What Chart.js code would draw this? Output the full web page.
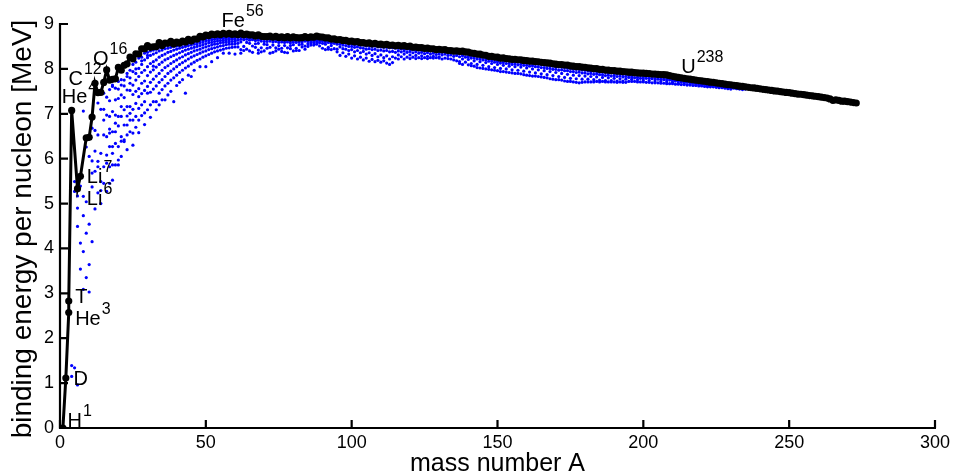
<!DOCTYPE html>
<html><head><meta charset="utf-8">
<script src="https://cdn.jsdelivr.net/npm/chart.js@4.4.1/dist/chart.umd.min.js"></script>
<style>html,body{margin:0;padding:0;background:#fff;}#wrap{width:957px;height:474px;}</style>
</head><body><div id="wrap"><canvas id="c" width="957" height="474"></canvas></div>
<script>
// Black curve: most bound nucleus for each mass number (A=3 has T and He3)
const curveA = [1,2,3,3,4,6,7,9,10,11,
 12,13,14,15,16,17,18,19,20,21,22,23,24,25,26,27,28,29,30,31,32,33,34,35,36,37,38,39,40,
 41,42,43,44,45,46,47,48,49,50,51,52,53,54,55,56,57,58,59,60,61,62,63,64,65,66,67,68,69,70,
 71,72,73,74,75,76,77,78,79,80,81,82,83,84,85,86,87,88,89,90,91,92,93,94,95,96,97,98,99,100,
 101,102,103,104,105,106,107,108,109,110,111,112,113,114,115,116,117,118,119,120,
 121,122,123,124,125,126,127,128,129,130,131,132,133,134,135,136,137,138,139,140,
 141,142,143,144,145,146,147,148,149,150,151,152,153,154,155,156,157,158,159,160,
 161,162,163,164,165,166,167,168,169,170,171,172,173,174,175,176,177,178,179,180,
 181,182,183,184,185,186,187,188,189,190,191,192,193,194,195,196,197,198,199,200,
 201,202,203,204,205,206,207,208,209,210,211,212,213,214,215,216,217,218,219,220,
 221,222,223,224,225,226,227,228,229,230,231,232,233,234,235,236,237,238,239,240,
 241,242,243,244,245,246,247,248,249,250,251,252,253,254,255,256,257,258,259,260,
 261,262,263,264,265,266,267,268,269,270,271,272,273];
const curveBE = [0,1.112,2.573,2.827,7.074,5.332,5.606,6.463,6.475,6.928,
 7.680,7.470,7.476,7.699,7.976,7.751,7.767,7.779,8.032,7.972,8.081,8.112,8.261,8.224,8.334,8.332,8.448,8.449,8.521,8.481,8.493,8.498,8.584,8.520,8.575,8.570,8.614,8.557,8.595,
 8.576,8.617,8.600,8.658,8.619,8.666,8.665,8.723,8.711,8.755,8.742,8.776,8.760,8.778,8.765,8.790,8.770,8.792,8.768,8.781,8.765,8.795,8.763,8.777,8.757,8.760,8.734,8.756,8.725,8.722,
 8.718,8.732,8.705,8.725,8.701,8.711,8.695,8.718,8.688,8.711,8.696,8.693,8.696,8.717,8.697,8.712,8.705,8.733,8.714,8.710,8.693,8.693,8.664,8.667,8.649,8.654,8.635,8.635,8.614,8.619,
 8.601,8.607,8.584,8.585,8.571,8.580,8.554,8.567,8.548,8.551,8.537,8.545,8.527,8.532,8.516,8.523,8.510,8.517,8.499,8.505,
 8.482,8.488,8.472,8.473,8.458,8.463,8.446,8.449,8.431,8.438,8.424,8.428,8.410,8.408,8.397,8.403,8.392,8.394,8.378,8.376,
 8.354,8.346,8.330,8.327,8.309,8.304,8.281,8.280,8.263,8.262,8.239,8.244,8.229,8.225,8.213,8.215,8.204,8.202,8.189,8.184,
 8.173,8.173,8.162,8.159,8.147,8.142,8.132,8.130,8.115,8.106,8.098,8.097,8.087,8.084,8.069,8.061,8.052,8.049,8.039,8.035,
 8.023,8.018,8.008,8.005,7.991,7.989,7.974,7.973,7.963,7.962,7.948,7.948,7.938,7.936,7.927,7.927,7.916,7.912,7.905,7.906,
 7.898,7.897,7.886,7.886,7.878,7.875,7.870,7.868,7.848,7.834,7.820,7.810,7.800,7.790,7.780,7.770,7.760,7.750,7.740,7.735,
 7.725,7.715,7.705,7.700,7.690,7.680,7.670,7.660,7.650,7.645,7.635,7.625,7.615,7.610,7.600,7.590,7.580,7.575,7.565,7.555,
 7.545,7.540,7.530,7.520,7.510,7.505,7.495,7.485,7.475,7.470,7.460,7.450,7.440,7.435,7.425,7.415,7.405,7.400,7.390,7.380,
 7.370,7.360,7.350,7.330,7.300,7.310,7.300,7.280,7.280,7.270,7.260,7.250,7.240];

// Blue points: all other nuclides, one row per mass number: [A, B/A values...]
const isotopeRows = [
[4,1.39,1.15],[5,1.34,5.49,5.27],[6,0.96,4.90,4.49,5.17],[7,5.39,4.12,3.54],
[8,7.06,5.16,4.73,3.93,3.09],[9,6.26,5.04,4.34,3.35],[10,6.50,6.05,4.54,3.64,3.03],
[11,6.68,5.95,5.68,5.37,4.15],[12,6.63,6.17,5.72,4.88],[13,7.24,6.53,5.94,5.82,5.24],
[14,7.52,7.10,6.12,5.49,5.29,5.00],[15,7.46,7.10,6.86,6.53,5.82,5.45],[16,7.37,6.97,6.49,6.08,5.90,5.27],
[17,7.54,7.29,6.94,6.66,6.57,6.27,5.82,5.45],[18,7.64,7.61,7.05,6.60,6.27,6.12,5.86,5.52],
[19,7.57,7.31,6.97,6.79,6.34,5.86,6.60],[20,7.72,7.34,6.94,6.73,6.27,5.97,5.86,7.55],
[21,7.76,7.64,7.42,7.16,6.94,6.49,6.39,6.05],[22,7.75,7.62,7.09,6.75,6.42,6.38,7.36],
[23,7.90,7.83,7.53,7.16,6.75,6.53,6.95,6.20],[24,7.97,7.80,7.52,7.16,7.01,6.86,6.60,7.68],
[25,8.10,7.94,7.64,7.43,7.10,6.86,6.57,6.30],[26,8.15,8.00,7.75,7.50,7.23,6.94,6.70,7.90],
[27,8.24,8.01,7.83,7.56,7.38,7.12,6.86,6.58],[28,8.26,8.10,7.92,7.68,7.45,7.20,6.96,8.18],
[29,8.35,8.20,7.97,7.73,7.52,7.27,7.02,6.76],[30,8.37,8.25,8.05,7.85,7.61,7.46,7.09,8.30],
[31,8.40,8.30,8.12,7.93,7.70,7.48,7.20,6.92],[32,8.42,8.33,8.16,7.98,7.77,7.55,7.27,8.06],
[33,8.44,8.36,8.20,8.04,7.84,7.62,7.27,7.09],[34,8.49,8.40,8.26,8.10,7.90,7.70,7.46,7.20],
[35,8.48,8.42,8.30,8.15,7.97,7.76,7.54,7.31],[36,8.52,8.45,8.33,8.20,8.03,7.83,7.62,7.31],
[37,8.53,8.46,8.37,8.23,8.07,7.90,7.68,7.42],[38,8.55,8.48,8.39,8.27,8.12,7.95,7.75,7.50],
[39,8.54,8.50,8.42,8.30,8.16,8.00,7.80,7.27],[40,8.55,8.51,8.44,8.33,8.20,8.05,7.86,7.63],
[41,8.56,8.52,8.46,8.36,8.24,8.10,7.92,7.70],[42,8.58,8.55,8.48,8.39,8.27,8.14,7.97,7.76],
[43,8.59,8.55,8.50,8.42,8.31,8.18,8.02,7.46],[44,8.61,8.57,8.52,8.44,8.34,8.22,8.06,7.86],
[45,8.61,8.58,8.53,8.46,8.37,8.26,8.11,7.83],[46,8.64,8.60,8.55,8.48,8.40,8.29,8.15,7.97],
[47,8.64,8.61,8.56,8.50,8.42,8.32,8.19],[48,8.67,8.63,8.58,8.52,8.44,8.35,8.22,8.05],
[49,8.69,8.65,8.60,8.54,8.47,8.38,8.26],[50,8.70,8.67,8.62,8.56,8.49,8.40,8.29,8.05],
[51,8.71,8.68,8.63,8.58,8.51,8.43,8.32],[52,8.72,8.70,8.65,8.59,8.53,8.45,8.35,8.16],
[53,8.74,8.71,8.66,8.61,8.55,8.47,8.38],[54,8.74,8.72,8.67,8.62,8.56,8.49,8.40,8.25],
[55,8.75,8.72,8.68,8.63,8.58,8.51,8.42],[56,8.74,8.71,8.68,8.64,8.59,8.52,8.44,8.35],
[57,8.76,8.73,8.69,8.65,8.60,8.54,8.46],[58,8.73,8.72,8.69,8.65,8.60,8.55,8.47,8.35],
[59,8.75,8.72,8.69,8.66,8.61,8.55,8.48],[60,8.76,8.72,8.69,8.65,8.61,8.56,8.49,8.33],
[61,8.74,8.70,8.64,8.57,8.49],[62,8.76,8.71,8.66,8.60,8.43,8.35],
[63,8.74,8.70,8.65,8.50,8.41],[64,8.75,8.71,8.66,8.59,8.44],
[65,8.73,8.69,8.64,8.57,8.40],[66,8.74,8.70,8.65,8.51,8.37],
[67,8.71,8.68,8.63,8.56,8.48],[68,8.73,8.69,8.64,8.57,8.42,8.35],
[69,8.70,8.67,8.62,8.47,8.38],[70,8.70,8.66,8.61,8.55,8.40],
[71,8.69,8.66,8.61,8.54,8.46],[72,8.71,8.67,8.62,8.48,8.35],
[73,8.68,8.65,8.60,8.53,8.37],[74,8.70,8.66,8.61,8.47,8.40],
[75,8.68,8.64,8.59,8.52,8.44],[76,8.69,8.65,8.60,8.46,8.39],
[77,8.67,8.64,8.59,8.52,8.37],[78,8.69,8.65,8.60,8.47,8.36],
[79,8.66,8.63,8.58,8.52,8.45],[80,8.69,8.65,8.60,8.54,8.40],
[81,8.67,8.64,8.59,8.46,8.41],[82,8.67,8.64,8.60,8.54,8.41],
[83,8.67,8.64,8.60,8.55,8.49],[84,8.69,8.66,8.62,8.51,8.44],
[85,8.67,8.64,8.61,8.56,8.50],[86,8.69,8.66,8.62,8.58,8.53],
[87,8.68,8.65,8.62,8.58,8.53],[88,8.71,8.68,8.64,8.60,8.55],
[89,8.69,8.66,8.62,8.58,8.51],[90,8.69,8.66,8.62,8.57,8.46],
[91,8.67,8.64,8.60,8.55,8.43],[92,8.67,8.64,8.59,8.48,8.44],
[93,8.64,8.61,8.57,8.52,8.43],[94,8.64,8.61,8.57,8.45],
[95,8.63,8.60,8.55,8.44,8.38],[96,8.63,8.60,8.55,8.49,8.30],
[97,8.61,8.58,8.53,8.45,8.36],[98,8.61,8.58,8.52,8.44,8.28],
[99,8.59,8.56,8.50,8.41,8.33],[100,8.60,8.56,8.50,8.43,8.24],
[101,8.58,8.54,8.48,8.38,8.29],[102,8.58,8.55,8.49,8.41,8.22],
[103,8.56,8.53,8.47,8.36,8.26],[104,8.56,8.53,8.46,8.39,8.20],
[105,8.55,8.51,8.44,8.33,8.24],[106,8.55,8.52,8.45,8.36,8.17],
[107,8.53,8.50,8.43,8.30,8.21],[108,8.54,8.51,8.44,8.34,8.16],
[109,8.52,8.49,8.41,8.27,8.19],[110,8.53,8.49,8.42,8.31,8.15],
[111,8.51,8.48,8.40,8.25,8.18],[112,8.52,8.48,8.41,8.29,8.13],
[113,8.50,8.47,8.38,8.22,8.10],[114,8.51,8.47,8.39,8.27,8.14],
[115,8.49,8.46,8.37,8.24],[116,8.50,8.46,8.40,8.31,8.22],
[117,8.49,8.45,8.38,8.27],[118,8.49,8.45,8.40,8.33,8.22],
[119,8.48,8.44,8.37,8.26],[120,8.48,8.44,8.39,8.31,8.23],
[121,8.46,8.43,8.36,8.26],[122,8.47,8.43,8.38,8.30,8.23],
[123,8.45,8.42,8.35,8.25],[124,8.45,8.42,8.37,8.29,8.23],
[125,8.44,8.41,8.34,8.25],[126,8.44,8.41,8.36,8.28,8.23],
[127,8.43,8.40,8.33,8.25],[128,8.43,8.40,8.35,8.28,8.24],
[129,8.41,8.38,8.32,8.25],[130,8.42,8.39,8.34,8.27,8.24],
[131,8.40,8.37,8.31,8.22],[132,8.41,8.38,8.33,8.24],
[133,8.39,8.36,8.30,8.23],[134,8.39,8.36,8.31,8.22],
[135,8.38,8.35,8.28,8.20],[136,8.38,8.35,8.30,8.18],
[137,8.37,8.34,8.27,8.16,8.12],[138,8.37,8.34,8.29,8.22,8.10],
[139,8.36,8.33,8.26,8.15],[140,8.35,8.32,8.27,8.21,8.09],
[141,8.33,8.30,8.24,8.12,8.07],[142,8.33,8.29,8.24,8.18,8.06],
[143,8.31,8.28,8.22,8.10,8.03],[144,8.31,8.27,8.22,8.16,8.02],
[145,8.29,8.26,8.20,8.08,8.01],[146,8.28,8.25,8.20,8.14,8.00],
[147,8.26,8.23,8.17,8.05,7.99],[148,8.26,8.23,8.18,8.12,7.98],
[149,8.24,8.21,8.15,8.03,7.97],[150,8.24,8.21,8.16,8.10,7.96],
[151,8.22,8.19,8.13,8.01,7.94],[152,8.22,8.19,8.14,8.08,7.94],
[153,8.21,8.18,8.12,8.00,7.93],[154,8.20,8.17,8.12,8.06,7.92],
[155,8.19,8.16,8.10,7.98,7.91],[156,8.19,8.16,8.11,8.05,7.90],
[157,8.18,8.15,8.09,7.97,7.90],[158,8.18,8.15,8.10,8.04,7.89],
[159,8.17,8.14,8.08,7.95,7.87],[160,8.16,8.13,8.08,8.02,7.86],
[161,8.15,8.12,8.06,7.93,7.85],[162,8.15,8.12,8.07,8.00,7.84],
[163,8.14,8.11,8.05,7.91,7.84],[164,8.14,8.11,8.05,7.98,7.83],
[165,8.13,8.10,8.03,7.89,7.82],[166,8.12,8.09,8.03,7.96,7.81],
[167,8.11,8.08,8.01,7.87,7.80],[168,8.11,8.07,8.01,7.94,7.78],
[169,8.09,8.06,7.99,7.85,7.77],[170,8.08,8.05,7.99,7.92,7.76],
[171,8.08,8.04,7.97,7.83,7.76],[172,8.07,8.04,7.98,7.90,7.75],
[173,8.06,8.03,7.96,7.81,7.73],[174,8.06,8.02,7.96,7.88,7.72],
[175,8.05,8.01,7.94,7.79,7.72],[176,8.04,8.00,7.94,7.86,7.71],
[177,8.03,7.99,7.92,7.78,7.70],[178,8.02,7.99,7.93,7.85,7.69],
[179,8.02,7.98,7.91,7.77,7.70],[180,8.01,7.97,7.91,7.84,7.71],
[181,8.00,7.96,7.89,7.77,7.71],[182,7.99,7.95,7.90,7.83,7.71],
[183,7.99,7.95,7.88,7.76,7.71],[184,7.98,7.94,7.89,7.82,7.72],
[185,7.97,7.93,7.87,7.75,7.71],[186,7.96,7.93,7.87,7.81,7.72],
[187,7.95,7.92,7.85,7.74,7.71],[188,7.95,7.91,7.86,7.80,7.71],
[189,7.94,7.91,7.84,7.74,7.71],[190,7.94,7.90,7.85,7.79,7.71],
[191,7.93,7.89,7.83,7.73,7.70],[192,7.92,7.89,7.84,7.78,7.71],
[193,7.92,7.88,7.82,7.73,7.70],[194,7.91,7.88,7.83,7.77,7.70],
[195,7.90,7.87,7.81,7.72],[196,7.90,7.87,7.82,7.77,7.72],
[197,7.89,7.86,7.80,7.72],[198,7.89,7.86,7.81,7.76,7.71],
[199,7.88,7.85,7.79,7.71],[200,7.88,7.85,7.80,7.75,7.71],
[201,7.87,7.84,7.79,7.70],[202,7.87,7.84,7.79,7.74,7.70],
[203,7.86,7.83,7.78,7.69],[204,7.86,7.83,7.78,7.73,7.69],
[205,7.85,7.82,7.77,7.69],[206,7.85,7.82,7.77,7.72,7.68],
[207,7.84,7.81,7.76,7.68],[208,7.84,7.81,7.76,7.71,7.67],
[209,7.82,7.79,7.75,7.67],[210,7.81,7.78,7.74,7.70,7.67],
[211,7.80,7.77,7.73,7.66],[212,7.79,7.76,7.72,7.68,7.66],
[213,7.78,7.75,7.71,7.65],[214,7.77,7.74,7.70,7.67,7.65],
[215,7.76,7.73,7.70,7.64],[216,7.75,7.72,7.69,7.66,7.64],
[217,7.74,7.71,7.68,7.63],[218,7.73,7.70,7.67,7.64,7.63],
[219,7.72,7.69,7.66,7.62],[220,7.71,7.69,7.66,7.63,7.62],
[221,7.70,7.68,7.65,7.61],[222,7.69,7.67,7.64,7.62,7.60],
[223,7.68,7.66,7.63,7.60],[224,7.67,7.65,7.62,7.60],
[225,7.66,7.64,7.61,7.59],[226,7.65,7.63,7.61,7.58],
[227,7.64,7.62,7.60,7.58],[228,7.63,7.61,7.59,7.57],
[229,7.62,7.60,7.58,7.56],[230,7.61,7.59,7.57,7.55],
[231,7.61,7.59,7.57],[232,7.60,7.58,7.56],[233,7.59,7.57,7.55],[234,7.58,7.56,7.54],[235,7.57,7.55]
];

const xTickValues = [0,50,100,150,200,250,300];
const yTickValues = [0,1,2,3,4,5,6,7,8,9];
const xTitle = 'mass number A';
const yTitle = 'binding energy per nucleon [MeV]';

// Text annotations (name, mass number superscript) anchored in data space
const nuclideLabels = [
 {t:'H',  s:'1',   a:2.6,  e:0.03},
 {t:'D',  s:'',    a:4.6,  e:0.96},
 {t:'T',  s:'',    a:5.2,  e:2.78},
 {t:'He', s:'3',   a:5.2,  e:2.30},
 {t:'Li', s:'7',   a:9.2,  e:5.45},
 {t:'Li', s:'6',   a:9.2,  e:4.97},
 {t:'He', s:'4',   a:0.6,  e:7.24},
 {t:'C',  s:'12',  a:2.9,  e:7.64},
 {t:'O',  s:'16',  a:11.3, e:8.09},
 {t:'Fe', s:'56',  a:55.4, e:8.93},
 {t:'U',  s:'238', a:213.0,e:7.90}
];

const FONT = '"Liberation Sans", Arial, Helvetica, sans-serif';

const curveData = curveA.map((a,i)=>({x:a,y:curveBE[i]}));
const isoData = [];
isotopeRows.forEach(r=>{ for(let k=1;k<r.length;k++) isoData.push({x:r[0],y:r[k]}); });

const framePlugin = {
 id:'frame',
 afterDatasetsDraw(chart){
  const ctx=chart.ctx, ca=chart.chartArea, xs=chart.scales.x, ys=chart.scales.y;
  ctx.save();
  ctx.strokeStyle='#000'; ctx.lineWidth=2.2; ctx.lineCap='butt';
  ctx.beginPath();
  ctx.moveTo(ca.left, ca.top-1); ctx.lineTo(ca.left, ca.bottom);
  ctx.lineTo(ca.right+1, ca.bottom);
  ctx.stroke();
  ctx.beginPath();
  xTickValues.forEach(v=>{const p=xs.getPixelForValue(v); ctx.moveTo(p,ca.bottom); ctx.lineTo(p,ca.bottom-8);});
  yTickValues.forEach(v=>{const p=ys.getPixelForValue(v); ctx.moveTo(ca.left,p); ctx.lineTo(ca.left+8,p);});
  ctx.stroke();
  // nuclide labels
  ctx.fillStyle='#000'; ctx.textBaseline='alphabetic'; ctx.textAlign='left';
  nuclideLabels.forEach(l=>{
   const px=xs.getPixelForValue(l.a), py=ys.getPixelForValue(l.e);
   ctx.font='20px '+FONT;
   ctx.fillText(l.t,px,py);
   const w=ctx.measureText(l.t).width;
   if(l.s){ ctx.font='16px '+FONT; ctx.fillText(l.s,px+w+1,py-11); }
  });
  // axis titles
  ctx.font='25px '+FONT; ctx.textAlign='center';
  ctx.fillText(xTitle,(ca.left+ca.right)/2, 471);
  ctx.save();
  ctx.font='28px '+FONT;
  ctx.translate(31,(ca.top+ca.bottom)/2+3);
  ctx.rotate(-Math.PI/2);
  ctx.fillText(yTitle,0,0);
  ctx.restore();
  ctx.restore();
 }
};

new Chart(document.getElementById('c'),{
 type:'scatter',
 data:{datasets:[
  {label:'curve',data:curveData,showLine:true,borderColor:'#000',borderWidth:3,
   pointRadius:3.6,pointBackgroundColor:'#000',pointBorderWidth:0,tension:0},
  {label:'nuclides',data:isoData,showLine:false,pointRadius:1.6,
   pointBackgroundColor:'#0000ff',pointBorderWidth:0,pointStyle:'circle'}
 ]},
 options:{
  responsive:false,animation:false,devicePixelRatio:1,
  layout:{padding:{top:24,right:22,left:0,bottom:0}},
  plugins:{legend:{display:false},tooltip:{enabled:false}},
  scales:{
   x:{type:'linear',min:0,max:300,
      afterBuildTicks(s){s.ticks=xTickValues.map(v=>({value:v}));},
      afterFit(s){s.height=46;},
      grid:{display:false,drawTicks:false},border:{display:false},
      ticks:{color:'#000',font:{family:FONT,size:18},padding:4,maxRotation:0}},
   y:{type:'linear',min:0,max:9,
      afterBuildTicks(s){s.ticks=yTickValues.map(v=>({value:v}));},
      afterFit(s){s.width=60;},
      grid:{display:false,drawTicks:false},border:{display:false},
      ticks:{color:'#000',font:{family:FONT,size:18},padding:6}}
  }
 },
 plugins:[framePlugin]
});
</script></body></html>
